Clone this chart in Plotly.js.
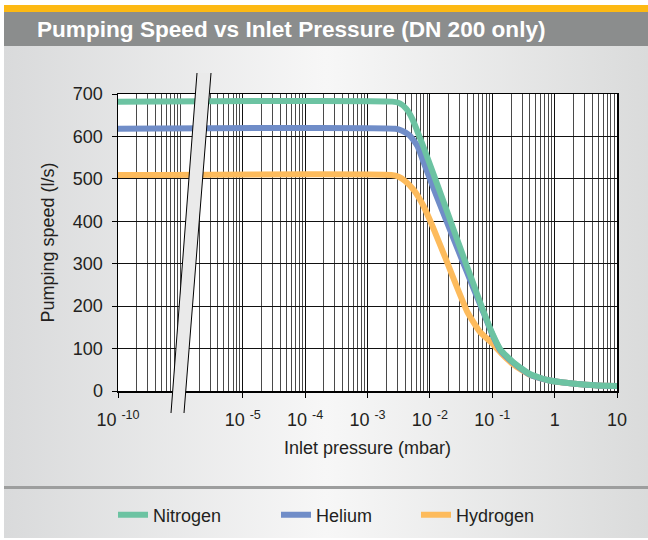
<!DOCTYPE html>
<html>
<head>
<meta charset="utf-8">
<script src="https://cdn.plot.ly/plotly-3.0.1.min.js"></script>
<style>
  html, body { margin: 0; padding: 0; width: 648px; height: 540px; overflow: hidden; background: #ffffff; }
  #bg { position: absolute; left: 4px; top: 5px; width: 644px; height: 533px;
        background: linear-gradient(to right, #d9dadb 0%, #f7f7f7 50%, #dadbdb 100%); }
  #yellow { position: absolute; left: 4px; top: 5px; width: 644px; height: 7px; background: #fdb913; }
  #bar { position: absolute; left: 4px; top: 12px; width: 644px; height: 34px; background: #8b8d8d; }
  #sep { position: absolute; left: 4px; top: 486px; width: 644px; height: 3px; background: #9d9e9e; }
  #chart { position: absolute; left: 0; top: 0; width: 648px; height: 540px; }
</style>
</head>
<body>
<div id="bg"></div>
<div id="yellow"></div>
<div id="bar"></div>
<div id="sep"></div>
<div id="chart"></div>
<script>
// ---- data (pressure in mbar, pumping speed in l/s) ----
const pressureNitrogen = [1e-10, 2.5e-3, 3.3e-3, 4.2e-3, 5.2e-3, 7.9e-3, 1.26e-2, 2.0e-2, 3.16e-2, 5.0e-2, 7.1e-2, 0.1, 0.135, 0.22, 0.4, 0.76, 1.38, 2.6, 4.8, 10];
const speedNitrogen    = [682, 682, 678, 665, 642, 575, 494, 413, 332, 252, 191, 136, 98, 67, 40, 26, 20, 16, 13, 12];

const pressureHelium = [1e-10, 2.8e-3, 3.5e-3, 4.7e-3, 6.3e-3, 7.9e-3, 1.26e-2, 2.0e-2, 3.16e-2, 5.0e-2, 7.1e-2, 0.1, 0.135, 0.22, 0.4, 0.76, 1.38, 2.6, 4.8, 10];
const speedHelium    = [618, 618, 614, 603, 578, 540, 462, 388, 315, 242, 188, 134, 96, 66, 39, 26, 20, 16, 13, 12];

const pressureHydrogen = [1e-10, 2.4e-3, 3.16e-3, 4.0e-3, 5.5e-3, 7.9e-3, 1.12e-2, 1.78e-2, 2.8e-2, 4.0e-2, 6.3e-2, 0.1, 0.141, 0.22, 0.4, 0.76, 1.38, 2.6, 4.8, 10];
const speedHydrogen    = [509, 509, 505, 495, 474, 436, 386, 313, 240, 186, 140, 112, 88, 62, 38, 26, 20, 16, 13, 12];

const tickPressures = [1e-10, 1e-5, 1e-4, 1e-3, 1e-2, 1e-1, 1, 10];
const tickLabels = ['10 <sup>-10</sup>', '10 <sup>-5</sup>', '10 <sup>-4</sup>', '10 <sup>-3</sup>', '10 <sup>-2</sup>', '10 <sup>-1</sup>', '1', '10'];
const speedTicks = [0, 100, 200, 300, 400, 500, 600, 700];

const seriesNames = ['Nitrogen', 'Helium', 'Hydrogen'];
const seriesColors = ['#6cc3a2', '#708dc8', '#fdbb5c'];

// ---- axis break: 1e-10 ... 1e-5 compressed into two displayed decades ----
function toAxis(p) {
  if (p >= 1e-5) return p;
  const lg = Math.log10(p);
  return Math.pow(10, -7 + (lg + 10) * 0.4);
}

const FONT = 'Liberation Sans, Arial, sans-serif';
const TXT = '#231f20';

// plot-area pixel frame
const L = 118, R = 617, T = 94, B = 391;
const px = v => (v - L) / (R - L);
const py = v => (B - v) / (B - T);

function mk(name, pX, pY, color, legendId) {
  return {
    type: 'scatter', mode: 'lines', name: name, legend: legendId,
    x: pX.map(toAxis), y: pY,
    line: { color: color, width: 6, shape: 'spline', smoothing: 0.5 },
    hoverinfo: 'skip'
  };
}

// draw order: hydrogen under helium under nitrogen
const traces = [
  mk(seriesNames[2], pressureHydrogen, speedHydrogen, seriesColors[2], 'legend3'),
  mk(seriesNames[1], pressureHelium, speedHelium, seriesColors[1], 'legend2'),
  mk(seriesNames[0], pressureNitrogen, speedNitrogen, seriesColors[0], 'legend')
];

function leg(xPix) {
  return {
    orientation: 'h', x: px(xPix), xanchor: 'left', y: py(515), yanchor: 'middle',
    bgcolor: 'rgba(0,0,0,0)', borderwidth: 0,
    font: { family: FONT, size: 18, color: TXT }
  };
}

const breakPoly = `M ${px(197)} ${py(73)} L ${px(211)} ${py(73)} L ${px(184)} ${py(413)} L ${px(171)} ${py(413)} Z`;

const layout = {
  width: 648, height: 540,
  paper_bgcolor: 'rgba(0,0,0,0)', plot_bgcolor: '#ffffff',
  margin: { l: L, r: 648 - R, t: T, b: 540 - B, pad: 0, autoexpand: false },
  font: { family: FONT, size: 18, color: TXT },
  title: {
    text: 'Pumping Speed vs Inlet Pressure (DN 200 only)',
    font: { family: FONT, size: 22.6, color: '#ffffff', weight: 'bold' },
    xref: 'container', yref: 'container',
    x: 37 / 648, xanchor: 'left', y: 1 - 29 / 540, yanchor: 'middle'
  },
  xaxis: {
    type: 'log', range: [-7, 1],
    tickmode: 'array', tickvals: tickPressures.map(toAxis), ticktext: tickLabels,
    ticks: 'outside', ticklen: 5, tickcolor: '#000', tickwidth: 1,
    ticklabelstandoff: 7,
    showgrid: true, gridcolor: '#111111', gridwidth: 1,
    minor: { dtick: 'D1', showgrid: true, gridcolor: '#4a4a4a', gridwidth: 1, ticks: '' },
    showline: true, linecolor: '#000', linewidth: 1.5, mirror: true,
    zeroline: false, automargin: false,
    tickfont: { family: FONT, size: 18, color: TXT },
    title: { text: 'Inlet pressure (mbar)', font: { family: FONT, size: 18, color: TXT }, standoff: 12 }
  },
  yaxis: {
    range: [0, 700], tickmode: 'array', tickvals: speedTicks,
    ticks: 'outside', ticklen: 5, tickcolor: '#000', tickwidth: 1,
    ticklabelstandoff: 5,
    showgrid: true, gridcolor: '#111111', gridwidth: 1,
    showline: true, linecolor: '#000', linewidth: 1.5, mirror: true,
    zeroline: false, automargin: false,
    tickfont: { family: FONT, size: 18, color: TXT },
    title: { text: 'Pumping speed (l/s)', font: { family: FONT, size: 18, color: TXT }, standoff: 13 }
  },
  showlegend: true,
  legend: leg(113),
  legend2: leg(276),
  legend3: leg(416),
  shapes: [
    { type: 'path', xref: 'paper', yref: 'paper', path: breakPoly, fillcolor: '#eaeaea', line: { width: 0 }, layer: 'above' },
    { type: 'line', xref: 'paper', yref: 'paper', x0: px(197), y0: py(73), x1: px(171), y1: py(413), line: { color: '#000', width: 1 }, layer: 'above' },
    { type: 'line', xref: 'paper', yref: 'paper', x0: px(211), y0: py(73), x1: px(184), y1: py(413), line: { color: '#000', width: 1 }, layer: 'above' }
  ]
};

Plotly.newPlot('chart', traces, layout, { displayModeBar: false, staticPlot: true });
</script>
</body>
</html>
